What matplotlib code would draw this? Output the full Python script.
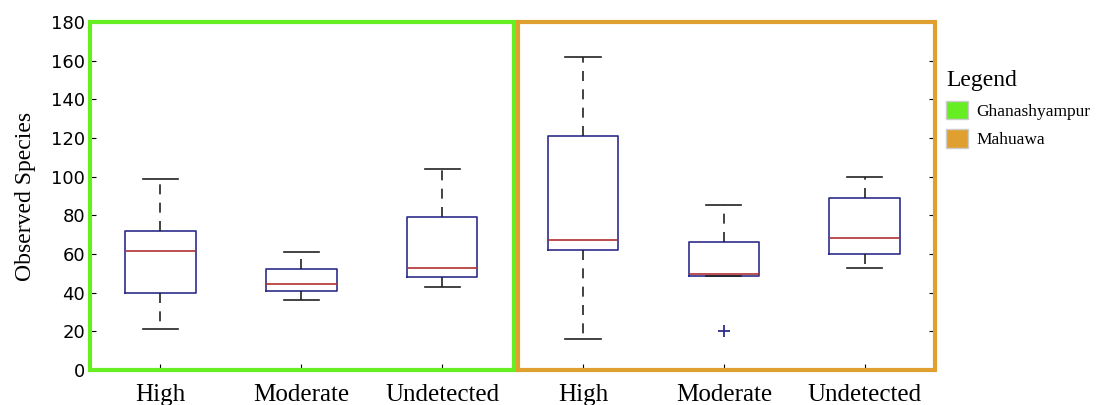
import matplotlib
matplotlib.use("Agg")
import matplotlib.pyplot as plt
from matplotlib.patches import Rectangle, Patch

# box statistics
labels = ["High", "Moderate", "Undetected", "High", "Moderate", "Undetected"]
whislo = [21, 36, 43, 16, 48.5, 53]
q1 = [40, 41, 48, 62, 48.5, 60]
med = [61.5, 44.5, 53, 67.5, 49.5, 68.5]
q3 = [72, 52.5, 79, 121, 66, 89]
whishi = [99, 61, 104, 162, 85.5, 100]
fliers = [[], [], [], [], [20], []]

sites = ["Ghanashyampur", "Mahuawa"]
site_colors = ["#66ee22", "#e0a030"]

stats = []
for i in range(len(labels)):
    stats.append(dict(label=labels[i], whislo=whislo[i], q1=q1[i], med=med[i],
                      q3=q3[i], whishi=whishi[i], fliers=fliers[i]))

fig = plt.figure(figsize=(10.99, 4.05), dpi=100)
ax = fig.add_axes([0.0819, 0.0864, 0.769, 0.8593])

ax.bxp(stats, positions=range(1, 7), widths=0.5,
       boxprops=dict(color="#2e2e8c", linewidth=1.2),
       medianprops=dict(color="#b03030", linewidth=1.2),
       whiskerprops=dict(color="#222222", linestyle=(0, (6, 5)), linewidth=1.2),
       capprops=dict(color="#222222", linewidth=1.2),
       flierprops=dict(marker="+", markeredgecolor="#2e2e8c", markersize=9, markeredgewidth=1.3))

ax.set_xlim(0.5, 6.5)
ax.set_ylim(0, 180)
ax.set_yticks(range(0, 181, 20))
ax.tick_params(axis="both", direction="in", length=4, right=True)
ax.tick_params(axis="y", labelsize=13)
ax.tick_params(axis="x", labelsize=18, pad=10)
for t in ax.get_xticklabels():
    t.set_family("Liberation Serif")
ax.set_ylabel("Observed Species", family="Liberation Serif", fontsize=17, labelpad=11)

for s in ax.spines.values():
    s.set_visible(False)
ax.spines["top"].set_visible(True)

# site frames
ax.add_patch(Rectangle((0.5, 0), 3.01, 180, fill=False, edgecolor=site_colors[0],
                       linewidth=3, clip_on=False, zorder=5))
ax.add_patch(Rectangle((3.54, 0), 2.96, 180, fill=False, edgecolor=site_colors[1],
                       linewidth=3, clip_on=False, zorder=5))

handles = [Patch(facecolor=site_colors[i], edgecolor="#cccccc", label=sites[i]) for i in range(2)]
leg = fig.legend(handles=handles, loc="upper left", bbox_to_anchor=(0.8465, 0.865),
                 frameon=False, title="Legend", handlelength=1.25, handleheight=1.25,
                 handletextpad=0.5, labelspacing=0.55,
                 prop=dict(family="Liberation Serif", size=12.5), alignment="left")
leg.get_title().set_family("Liberation Serif")
leg.get_title().set_fontsize(17)

fig.savefig("out.png", dpi=100)
